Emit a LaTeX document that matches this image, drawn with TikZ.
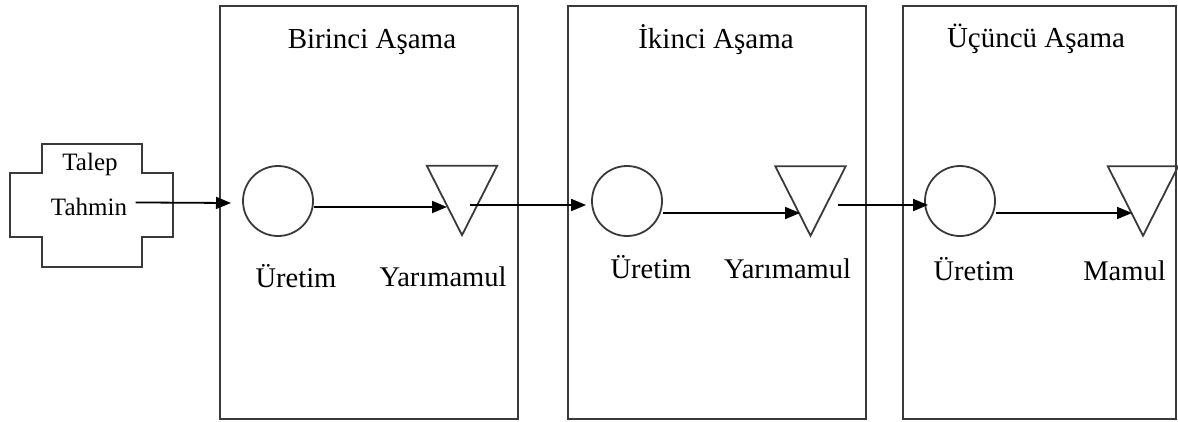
\documentclass[tikz,border=0pt]{standalone}
\usepackage{fontspec}
\setmainfont{Liberation Serif}
\usetikzlibrary{arrows.meta}
\definecolor{edge}{HTML}{3A3A3A}
\tikzset{
  stagebox/.style={draw=edge, line width=2pt, inner sep=0pt, minimum width=#1, minimum height=413pt},
  proc/.style={draw=edge, line width=1.8pt, circle, inner sep=0pt, minimum size=70pt},
  tri/.style={draw=edge, line width=1.8pt, line join=miter},
  trinode/.style={inner sep=0pt, minimum width=70pt, minimum height=69pt},
  title/.style={anchor=base, font=\fontsize{29}{34}\selectfont},
  lbl/.style={anchor=base, font=\fontsize{28.5}{34}\selectfont},
  small/.style={anchor=base, font=\fontsize{25}{29}\selectfont},
  arr/.style={line width=1.8pt, draw=black, -{Triangle[length=15pt,width=12pt]}},
  ln/.style={line width=1.8pt, draw=black}
}
\begin{document}
\begin{tikzpicture}[x=1pt,y=-1pt]
\useasboundingbox (0,0) rectangle (1178,421);
% stage boxes
\node[stagebox=298pt] (b1) at (369,212.5) {};
\node[stagebox=298pt] (b2) at (717,212.5) {};
\node[stagebox=273pt] (b3) at (1039.5,212.5) {};
% titles
\node[title] (h1) at (372,48) {Birinci Aşama};
\node[title] (h2) at (716,48) {İkinci Aşama};
\node[title] (h3) at (1036,47) {Üçüncü Aşama};
% demand forecast shape
\draw[draw=edge, line width=1.8pt] (42,144) -- (142,144) -- (142,173) -- (173,173) -- (173,237) -- (142,237) -- (142,267) -- (42,267) -- (42,237) -- (10,237) -- (10,173) -- (42,173) -- cycle;
\node[small] (talep) at (90,170) {Talep};
\node[small] (tahmin) at (89,215) {Tahmin};
% production circles
\node[proc] (c1) at (278,201) {};
\node[proc] (c2) at (627,201) {};
\node[proc] (c3) at (960,201) {};
% stock triangles
\node[trinode] (t1) at (462,200.5) {};
\node[trinode] (t2) at (810.5,201) {};
\node[trinode] (t3) at (1143,201) {};
\draw[tri] (t1.north west) -- (t1.north east) -- (t1.south) -- cycle;
\draw[tri] (t2.north west) -- (t2.north east) -- (t2.south) -- cycle;
\draw[tri] (t3.north west) -- (t3.north east) -- (t3.south) -- cycle;
% labels
\node[lbl] (u1) at (296,287) {Üretim};
\node[lbl] (y1) at (443,286) {Yarımamul};
\node[lbl] (u2) at (651,278) {Üretim};
\node[lbl] (y2) at (787.5,278) {Yarımamul};
\node[lbl] (u3) at (974,280) {Üretim};
\node[lbl] (m3) at (1124.5,280) {Mamul};
% connector points
\coordinate (c1in) at (231,203);
\coordinate (t1in) at (447,207);
\coordinate (t1out) at (470,205);
\coordinate (t2in) at (800,213);
\coordinate (t2out) at (838,205);
\coordinate (t3in) at (1132,213);
% connectors
\draw[arr] ([xshift=5pt,yshift=4pt]tahmin.east) -- (c1in);
\draw[arr] (c1.east |- t1in) -- (t1in);
\draw[arr, shorten >=5pt] (t1out) -- (c2.west |- t1out);
\draw[arr] (c2.east |- t2in) -- (t2in);
\draw[arr, shorten >=-4pt] (t2out) -- (c3.west |- t2out);
\draw[arr] (c3.east |- t3in) -- (t3in);
\end{tikzpicture}
\end{document}
